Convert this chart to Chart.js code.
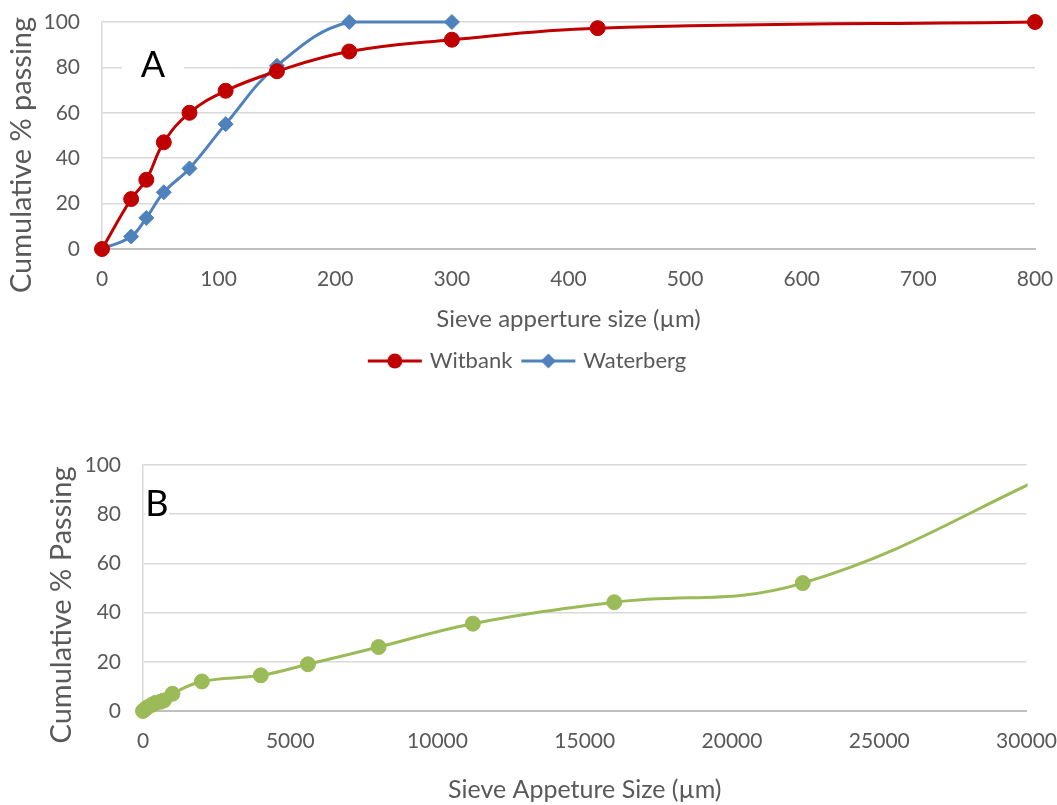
<!DOCTYPE html>
<html>
<head>
<meta charset="utf-8">
<script src="https://cdn.jsdelivr.net/npm/chart.js@4.4.1/dist/chart.umd.min.js"></script>
<style>
  body { margin: 0; background: #fff; }
  #boxA { position: absolute; left: 0; top: 0; width: 1057px; height: 390px; }
  #boxB { position: absolute; left: 0; top: 420px; width: 1057px; height: 385px; }
</style>
</head>
<body>
<div id="boxA"><canvas id="chartA"></canvas></div>
<div id="boxB"><canvas id="chartB"></canvas></div>
<script>
/*==== data ====*/
// chart A - fine fraction
const sieveWitbank = [0, 25, 38, 53, 75, 106, 150, 212, 300, 425, 800];
const passWitbank = [0, 22, 30.5, 47, 60, 69.7, 78.3, 87, 92.2, 97.3, 100];
const sieveWaterberg = [0, 25, 38, 53, 75, 106, 150, 212, 300];
const passWaterberg = [0, 5.5, 13.7, 25, 35.5, 55, 80.7, 100, 100];
const ticksA = [0, 100, 200, 300, 400, 500, 600, 700, 800];

// chart B - coarse fraction
const sieveCoarse = [0, 75, 150, 300, 425, 600, 710, 1000, 2000, 4000, 5600, 8000, 11200, 16000, 22400, 31500];
const passCoarse = [0, 0.8, 1.5, 2.5, 3.3, 3.8, 4.3, 7, 12, 14.5, 19, 26, 35.5, 44.2, 52, 100];
const ticksB = [0, 5000, 10000, 15000, 20000, 25000, 30000];
const ticksY = [0, 20, 40, 60, 80, 100];

/*==== setup ====*/
const RED = '#c00000';
const BLUE = '#4f81bd';
const GREEN = '#9bbb59';
const TXT = '#595959';
const FONT = 'Lato, "Noto Sans", sans-serif';

function toPoints(xs, ys) {
    return xs.map((x, i) => ({ x: x, y: ys[i] }));
}

// little legend icon : line with its marker in the middle
// (60px wide image over a 48px legend box -> text comes closer to the line)
function legendIcon(color, style) {
    const c = document.createElement('canvas');
    c.width = 60; c.height = 18;
    const g = c.getContext('2d');
    g.strokeStyle = color; g.lineWidth = 3;
    g.beginPath(); g.moveTo(3, 9); g.lineTo(57, 9); g.stroke();
    g.fillStyle = color;
    g.beginPath();
    if (style == 'circle') {
        g.arc(30, 9, 7.5, 0, Math.PI * 2);
    } else {
        g.moveTo(30, 1.5); g.lineTo(37.5, 9); g.lineTo(30, 16.5); g.lineTo(22.5, 9); g.closePath();
    }
    g.fill();
    return c;
}
const iconsA = [legendIcon(RED, 'circle'), legendIcon(BLUE, 'diamond')];

// letter in a white box (A / B) + the rotated y title, placed like in the excel figure
function decorations(letter, x, y, w, h, yTitle, tx, ty) {
    return {
        id: 'deco' + letter,
        beforeDatasetsDraw(chart) {
            const ctx = chart.ctx;
            ctx.save();
            ctx.fillStyle = '#fff';
            ctx.fillRect(x - w / 2, y - h / 2, w, h);
            ctx.fillStyle = '#000';
            ctx.font = '36px ' + FONT;
            ctx.textAlign = 'center';
            ctx.textBaseline = 'middle';
            ctx.fillText(letter, x, y + 1);
            ctx.restore();
        },
        afterDraw(chart) {
            const ctx = chart.ctx;
            ctx.save();
            ctx.translate(tx, ty);
            ctx.rotate(-Math.PI / 2);
            ctx.fillStyle = TXT;
            ctx.font = '29px ' + FONT;
            ctx.textAlign = 'center';
            ctx.textBaseline = 'middle';
            ctx.fillText(yTitle, 0, 0);
            ctx.restore();
        }
    };
}

// invisible tick marks give the label gap (tick padding would also grow the layout padding)
function yAxis(width, fontSize) {
    return {
        type: 'linear', min: 0, max: 100,
        afterBuildTicks: s => { s.ticks = ticksY.map(v => ({ value: v })); },
        afterFit: s => { s.width = width; },
        ticks: { color: TXT, padding: 0, font: { family: FONT, size: fontSize } },
        grid: { color: '#d9d9d9', lineWidth: 1.5, drawTicks: true, tickLength: 22, tickColor: 'rgba(0,0,0,0)' },
        border: { display: true, color: '#d9d9d9', width: 1.5 },
        title: { display: false }
    };
}

// padRight: room kept right of the plot by the axis itself (so the legend stays centred on the canvas)
function xAxis(title, max, ticks, height, fontSize, titleSize, titlePad, padRight) {
    return {
        type: 'linear', min: 0, max: max,
        afterBuildTicks: s => { s.ticks = ticks.map(v => ({ value: v })); },
        afterFit: s => {
            s.height = height;
            if (padRight) s.paddingRight = padRight;
        },
        ticks: { color: TXT, padding: 0, font: { family: FONT, size: fontSize }, callback: v => String(v), maxRotation: 0 },
        grid: { display: true, drawOnChartArea: false, color: 'rgba(0,0,0,0)', drawTicks: true, tickLength: 18 },
        border: { display: true, color: '#bfbfbf', width: 2 },
        title: { display: true, text: title, color: TXT, padding: { bottom: titlePad }, font: { family: FONT, size: titleSize } }
    };
}

/*===== render chart A =====*/
new Chart(document.querySelector('#chartA'), {
    type: 'scatter',
    data: {
        datasets: [
            {
                label: 'Witbank',
                data: toPoints(sieveWitbank, passWitbank),
                showLine: true, tension: 0.4,
                borderColor: RED, backgroundColor: RED, borderWidth: 3,
                pointStyle: 'circle', pointRadius: 7.5, pointBorderWidth: 1,
                clip: false
            },
            {
                label: 'Waterberg',
                data: toPoints(sieveWaterberg, passWaterberg),
                showLine: true, tension: 0.4,
                borderColor: BLUE, backgroundColor: BLUE, borderWidth: 3,
                pointStyle: 'rectRot', pointRadius: 7.5, pointBorderWidth: 1,
                clip: false
            }
        ]
    },
    options: {
        responsive: true, maintainAspectRatio: false, animation: false, events: [],
        layout: { padding: { top: 22, right: 0, left: 0, bottom: 8 } },
        scales: {
            x: xAxis('Sieve apperture size (\u00b5m)', 800, ticksA, 89, 21, 24, 4, 22),
            y: yAxis(102, 21)
        },
        plugins: {
            tooltip: { enabled: false },
            legend: {
                position: 'bottom',
                labels: {
                    usePointStyle: true, pointStyleWidth: 48, boxWidth: 48,
                    padding: 12, color: TXT, font: { family: FONT, size: 22 },
                    generateLabels(chart) {
                        const items = Chart.defaults.plugins.legend.labels.generateLabels(chart);
                        items.forEach((it, i) => { it.pointStyle = iconsA[i]; });
                        return items;
                    }
                }
            }
        }
    },
    plugins: [decorations('A', 153, 64, 62, 50, 'Cumulative % passing', 22, 155)]
});

/*===== render chart B =====*/
new Chart(document.querySelector('#chartB'), {
    type: 'scatter',
    data: {
        datasets: [
            {
                label: 'Coarse',
                data: toPoints(sieveCoarse, passCoarse),
                showLine: true, tension: 0.4,
                borderColor: GREEN, backgroundColor: GREEN, borderWidth: 3,
                pointStyle: 'circle', pointRadius: 7.5, pointBorderWidth: 1,
                clip: { left: 12, top: 12, bottom: 12, right: 1 }
            }
        ]
    },
    options: {
        responsive: true, maintainAspectRatio: false, animation: false, events: [],
        layout: { padding: { top: 45, right: 29, left: 0, bottom: 0 } },
        scales: {
            x: xAxis('Sieve Appeture Size (\u00b5m)', 30000, ticksB, 94, 21, 25, 0, 0),
            y: yAxis(143, 21)
        },
        plugins: {
            tooltip: { enabled: false },
            legend: { display: false }
        }
    },
    plugins: [decorations('B', 157, 83, 24, 32, 'Cumulative % Passing', 62, 185)]
});
</script>
</body>
</html>
